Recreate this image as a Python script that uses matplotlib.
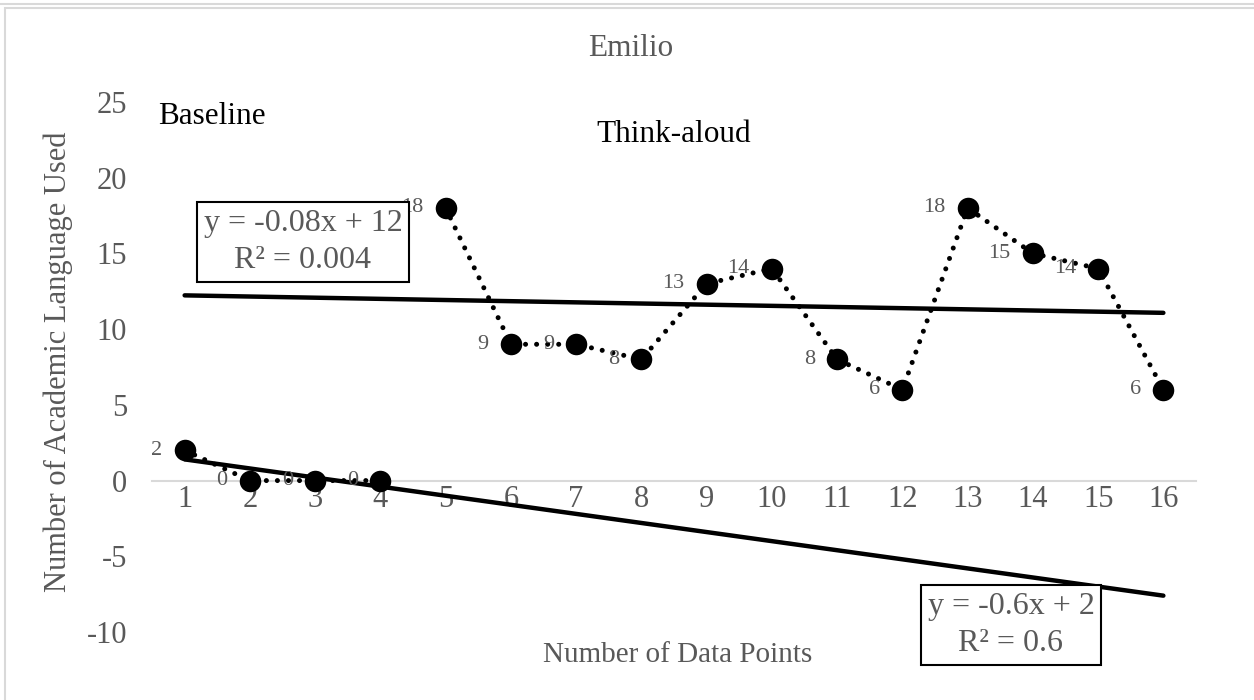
import numpy as np
import matplotlib
matplotlib.use("Agg")
import matplotlib.pyplot as plt
from matplotlib.patches import Rectangle
from matplotlib.lines import Line2D

# ---- data ----
categories = list(range(1, 17))
baseline_x = [1, 2, 3, 4]
baseline_y = [2, 0, 0, 0]
think_x = [5, 6, 7, 8, 9, 10, 11, 12, 13, 14, 15, 16]
think_y = [18, 9, 9, 8, 13, 14, 8, 6, 18, 15, 14, 6]
y_ticks = [-10, -5, 0, 5, 10, 15, 20, 25]
title = "Emilio"
x_label = "Number of Data Points"
y_label = "Number of Academic Language Used"
eq_think = "y = -0.08x + 12\nR² = 0.004"
eq_base = "y = -0.6x + 2\nR² = 0.6"

W, H = 1254, 700
plt.rcParams['font.family'] = ['Liberation Serif', 'DejaVu Serif']
GRAY = '#595959'

fig = plt.figure(figsize=(W / 100, H / 100), dpi=100)
ax = fig.add_axes([152 / W, (H - 632) / H, (1196 - 152) / W, (632 - 102) / H])

# frame lines
fig.add_artist(Line2D([0, 1], [1 - 4 / H, 1 - 4 / H], color='#d9d9d9', lw=1.5, transform=fig.transFigure))
fig.add_artist(Rectangle((5 / W, -0.01), 1.02, 1 - 8 / H + 0.01, transform=fig.transFigure,
                         fill=False, edgecolor='#d9d9d9', lw=1.5))

dot_style = dict(color='black', lw=3.6, linestyle=(0, (0.01, 2.2)), dash_capstyle='round', zorder=3)
ax.plot(baseline_x, baseline_y, **dot_style)
ax.plot(think_x, think_y, **dot_style)
ax.plot(baseline_x, baseline_y, 'o', color='black', ms=15.5, mew=0, zorder=4)
ax.plot(think_x, think_y, 'o', color='black', ms=15.5, mew=0, zorder=4)

# trendlines (linear fits of each phase), extended over all categories
xs = np.array([categories[0], categories[-1]])
b1 = np.polyfit(baseline_x, baseline_y, 1)
b2 = np.polyfit(think_x, think_y, 1)
ax.plot(xs, np.polyval(b1, xs), color='black', lw=3.2, solid_capstyle='round', zorder=2)
ax.plot(xs, np.polyval(b2, xs), color='black', lw=3.2, solid_capstyle='round', zorder=2)

# data labels
for x, y in list(zip(baseline_x, baseline_y)) + list(zip(think_x, think_y)):
    ax.annotate(str(y), (x, y), xytext=(-16, 0), textcoords='offset points',
                ha='right', va='center', fontsize=16, color=GRAY, zorder=5)

ax.set_xlim(categories[0] - 0.5, categories[-1] + 0.5)
ax.set_ylim(-10, 25)
ax.set_xticks(categories)
ax.set_xticklabels([str(c) for c in categories])
ax.set_yticks(y_ticks)
ax.set_yticklabels([str(t) for t in y_ticks])
for s in ['top', 'right', 'left']:
    ax.spines[s].set_visible(False)
ax.spines['bottom'].set_position(('data', 0))
ax.spines['bottom'].set_color('#d9d9d9')
ax.spines['bottom'].set_linewidth(1.5)
ax.spines['bottom'].set_zorder(1)
ax.tick_params(axis='x', length=0, pad=3, labelsize=22, labelcolor=GRAY)
ax.tick_params(axis='y', length=0, pad=18, labelsize=22, labelcolor=GRAY)
ax.patch.set_alpha(0)

fig.text(631 / W, 1 - 48 / H, title, ha='center', va='center', fontsize=22.5, color=GRAY)
fig.text(678 / W, 1 - 655 / H, x_label, ha='center', va='center', fontsize=21, color=GRAY)
fig.text(58 / W, 1 - 362 / H, y_label, ha='center', va='center', fontsize=22, color=GRAY, rotation=90)
fig.text(158 / W, 1 - 117 / H, "Baseline", ha='left', va='center', fontsize=22.5, color='black')
fig.text(596 / W, 1 - 134 / H, "Think-aloud", ha='left', va='center', fontsize=22.5, color='black')

box = dict(boxstyle='square,pad=0.22', facecolor='white', edgecolor='black', lw=1.5)
fig.text(303 / W, 1 - 242 / H, eq_think, ha='center', va='center', fontsize=23, color=GRAY,
         linespacing=1.32, bbox=box, zorder=6)
fig.text(1011 / W, 1 - 625 / H, eq_base, ha='center', va='center', fontsize=23, color=GRAY,
         linespacing=1.32, bbox=box, zorder=6)

fig.savefig('out.png', dpi=100)
